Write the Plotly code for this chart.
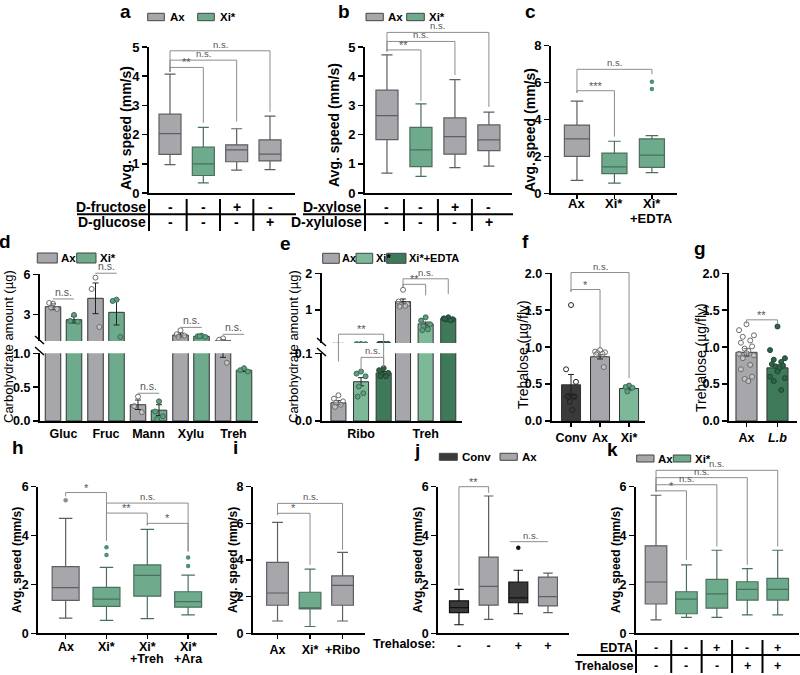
import plotly.graph_objects as go

W, H = 800, 675
FONT = "Liberation Sans, Arial, Helvetica, sans-serif"

# ---------------- colours ----------------
C_AX = "#a6a6ab"
C_XI = "#6dab8c"
C_XI_LIGHT = "#7db999"
C_EDTA = "#3e7a5a"
C_CONV = "#3a3a3a"
LINE_AX = "#5e5e63"
LINE_XI = "#4b6f5d"
BRK = "#8c8c8c"

# ================= DATA =================
# panel a  (Ax, Xi*, Xi*+D-fructose, Xi*+D-glucose)
a_low = [0.97, 0.35, 0.78, 0.80]
a_q1 = [1.32, 0.60, 1.07, 1.10]
a_med = [2.03, 1.00, 1.48, 1.33]
a_q3 = [2.70, 1.57, 1.65, 1.82]
a_high = [4.07, 2.25, 2.20, 2.63]
a_group = ["Ax", "Xi*", "Ax", "Ax"]
a_fructose = ["-", "-", "+", "-"]
a_glucose = ["-", "-", "-", "+"]

# panel b
b_low = [0.68, 0.57, 0.87, 0.92]
b_q1 = [1.83, 0.90, 1.33, 1.45]
b_med = [2.65, 1.48, 1.93, 1.82]
b_q3 = [3.52, 2.25, 2.57, 2.33]
b_high = [4.73, 3.05, 3.88, 2.77]
b_group = ["Ax", "Xi*", "Ax", "Ax"]
b_xylose = ["-", "-", "+", "-"]
b_xylulose = ["-", "-", "-", "+"]

# panel c
c_labels = [["Ax"], ["Xi*"], ["Xi*", "+EDTA"]]
c_low = [0.70, 0.55, 1.12]
c_q1 = [2.00, 1.07, 1.40]
c_med = [2.95, 1.43, 2.07]
c_q3 = [3.70, 2.18, 2.95]
c_high = [5.00, 2.82, 3.13]
c_group = ["Ax", "Xi*", "Xi*"]
c_out = [[], [], [5.65, 6.05]]

# panel d (carbohydrates, Ax vs Xi*)
d_cats = ["Gluc", "Fruc", "Mann", "Xylu", "Treh"]
d_ax_mean = [3.57, 4.20, 0.24, 1.45, 1.02]
d_ax_sem = [0.22, 1.15, 0.07, 0.15, 0.08]
d_xi_mean = [2.60, 3.15, 0.16, 1.35, 0.75]
d_xi_sem = [0.25, 0.95, 0.08, 0.04, 0.02]
d_ax_pts = [[3.80, 3.85, 3.40, 3.50], [5.75, 4.90, 2.05], [0.36, 0.22, 0.13],
            [1.80, 1.50, 1.40, 1.30], [1.20, 1.10, 0.86]]
d_xi_pts = [[2.95, 2.50, 2.45], [4.10, 4.00, 1.30], [0.29, 0.14, 0.07, 0.03],
            [1.40, 1.35, 1.30, 1.35], [0.78, 0.75, 0.73]]

# panel e
e_cats = ["Ribo", "Treh"]
e_ax_mean = [0.027, 1.23]
e_ax_sem = [0.003, 0.07]
e_xi_mean = [0.058, 0.62]
e_xi_sem = [0.006, 0.05]
e_ed_mean = [0.071, 0.77]
e_ed_sem = [0.002, 0.015]
e_ax_pts = [[0.038, 0.033, 0.029, 0.027, 0.024, 0.021], [1.55, 1.23, 1.16, 1.14, 1.11, 1.09]]
e_xi_pts = [[0.073, 0.070, 0.066, 0.051, 0.041, 0.036], [0.80, 0.71, 0.61, 0.56, 0.47, 0.45]]
e_ed_pts = [[0.078, 0.075, 0.071, 0.069, 0.066, 0.066], [0.80, 0.77, 0.75, 0.74, 0.72, 0.76]]

# panel f
f_cats = ["Conv", "Ax", "Xi*"]
f_mean = [0.49, 0.87, 0.44]
f_sem = [0.14, 0.03, 0.02]
f_pts = [[1.57, 0.70, 0.53, 0.34, 0.33, 0.33, 0.33, 0.26, 0.15],
         [0.96, 0.94, 0.93, 0.92, 0.91, 0.90, 0.73],
         [0.48, 0.46, 0.45, 0.40]]

# panel g
g_cats = ["Ax", "<i>L.b</i>"]
g_mean = [0.93, 0.72]
g_sem = [0.05, 0.04]
g_pts = [[1.31, 1.23, 1.16, 1.14, 1.09, 1.06, 1.01, 0.98, 0.95, 0.92, 0.91, 0.89, 0.85, 0.76, 0.70, 0.60, 0.57, 0.54],
         [1.28, 0.96, 0.85, 0.83, 0.80, 0.77, 0.75, 0.74, 0.72, 0.67, 0.60, 0.58, 0.54, 0.42]]

# panel h
h_labels = [["Ax"], ["Xi*"], ["Xi*", "+Treh"], ["Xi*", "+Ara"]]
h_low = [0.62, 0.53, 0.60, 0.75]
h_q1 = [1.35, 1.10, 1.52, 1.07]
h_med = [1.87, 1.40, 2.37, 1.30]
h_q3 = [2.73, 1.88, 2.80, 1.70]
h_high = [4.70, 2.70, 4.25, 2.38]
h_group = ["Ax", "Xi*", "Xi*", "Xi*"]
h_out = [[5.45], [3.20, 3.52], [], [2.75, 3.10]]

# panel i
i_labels = ["Ax", "Xi*", "+Ribo"]
i_low = [0.67, 0.37, 0.67]
i_q1 = [1.53, 1.33, 1.53]
i_med = [2.20, 1.38, 2.62]
i_q3 = [3.87, 2.24, 3.13]
i_high = [6.05, 3.50, 4.42]
i_group = ["Ax", "Xi*", "Ax"]

# panel j
j_low = [0.35, 0.57, 0.80, 0.85]
j_q1 = [0.85, 1.15, 1.25, 1.12]
j_med = [1.05, 1.92, 1.45, 1.50]
j_q3 = [1.33, 3.12, 2.10, 2.30]
j_high = [1.80, 5.62, 2.58, 2.46]
j_group = ["Conv", "Ax", "Conv", "Ax"]
j_out = [[], [], [3.50], []]
j_treh = ["-", "-", "+", "+"]

# panel k
k_low = [0.55, 0.65, 0.65, 0.75, 0.75]
k_q1 = [1.20, 0.80, 1.03, 1.36, 1.36]
k_med = [2.10, 1.40, 1.61, 1.80, 1.80]
k_q3 = [3.58, 1.70, 2.21, 2.11, 2.25]
k_high = [5.65, 2.80, 3.40, 2.65, 3.40]
k_group = ["Ax", "Xi*", "Xi*", "Xi*", "Xi*"]
k_edta = ["-", "-", "+", "-", "+"]
k_treh = ["-", "-", "-", "+", "+"]

# ================= GEOMETRY (pixel layout) =================
P = {
    "a": dict(n=1, xpx=(149, 295), xr=(-0.63, 3.75), ypx=(193, 47), yr=(0, 5)),
    "b": dict(n=2, xpx=(365, 512), xr=(-0.647, 3.68), ypx=(193, 47), yr=(0, 5)),
    "c": dict(n=3, xpx=(551, 677), xr=(-0.693, 2.67), ypx=(193.3, 45.7), yr=(0, 8)),
    "dL": dict(n=4, xpx=(40, 258), xr=(-0.553, 4.576), ypx=(421, 353.3), yr=(0, 1)),
    "dU": dict(n=5, xpx=(40, 258), xr=(-0.553, 4.576), ypx=(341, 274.3), yr=(1, 6)),
    "eL": dict(n=6, xpx=(321.7, 461.7), xr=(-0.609, 1.558), ypx=(421, 353.3), yr=(0, 0.1)),
    "eU": dict(n=7, xpx=(321.7, 461.7), xr=(-0.609, 1.558), ypx=(343, 273.3), yr=(0.1, 2)),
    "f": dict(n=8, xpx=(551.7, 645), xr=(-0.666, 2.55), ypx=(421, 273.3), yr=(0, 2)),
    "g": dict(n=9, xpx=(729.3, 796.7), xr=(-0.555, 1.62), ypx=(421, 273.3), yr=(0, 2)),
    "h": dict(n=10, xpx=(38.3, 216.7), xr=(-0.67, 3.7), ypx=(633.3, 486.7), yr=(0, 6)),
    "i": dict(n=11, xpx=(253, 365), xr=(-0.754, 2.69), ypx=(633.3, 486.7), yr=(0, 8)),
    "j": dict(n=12, xpx=(438.3, 569), xr=(-0.697, 3.71), ypx=(633.3, 486.7), yr=(0, 6)),
    "k": dict(n=13, xpx=(636, 799), xr=(-0.658, 4.7), ypx=(633.3, 486.7), yr=(0, 6)),
}

fig = go.Figure()
shapes, annos = [], []


def suf(key):
    n = P[key]["n"]
    return "" if n == 1 else str(n)


def to_paper(key, x, y):
    p = P[key]
    px = p["xpx"][0] + (x - p["xr"][0]) / (p["xr"][1] - p["xr"][0]) * (p["xpx"][1] - p["xpx"][0])
    py = p["ypx"][0] + (y - p["yr"][0]) / (p["yr"][1] - p["yr"][0]) * (p["ypx"][1] - p["ypx"][0])
    return px / W, 1 - py / H


def pp(x, y):
    return x / W, 1 - y / H


def setup(key, yvals, ytext, xvals=None, xtext=None, xticks=True, xshow=True, tfs=12.5):
    p = P[key]
    s = suf(key)
    tf = dict(family=FONT, size=tfs, color="black", weight="bold")
    fig.update_layout(**{
        "xaxis" + s: dict(domain=[p["xpx"][0] / W, p["xpx"][1] / W], range=list(p["xr"]), anchor="y" + s,
                          visible=xshow, showline=True, linecolor="black", linewidth=2,
                          ticks="outside" if xticks else "", ticklen=4, tickwidth=1.5, tickcolor="black",
                          tickmode="array", tickvals=xvals if xvals is not None else [],
                          ticktext=xtext if xtext is not None else [],
                          showgrid=False, zeroline=False, tickfont=tf, fixedrange=True, automargin=False),
        "yaxis" + s: dict(domain=[1 - p["ypx"][0] / H, 1 - p["ypx"][1] / H], range=list(p["yr"]), anchor="x" + s,
                          showline=True, linecolor="black", linewidth=2, ticks="outside", ticklen=5,
                          tickwidth=1.5, tickcolor="black", tickmode="array", tickvals=yvals, ticktext=ytext,
                          showgrid=False, zeroline=False, tickfont=tf, fixedrange=True, automargin=False),
    })


GROUP_STYLE = {"Ax": (C_AX, LINE_AX), "Xi*": (C_XI, LINE_XI), "Conv": (C_CONV, "#111111")}
OUT_COLOR = {"Ax": "#8d8d92", "Xi*": "#4f9274", "Conv": "#111111"}


def add_boxes(key, low, q1, med, q3, high, groups, width, outliers=None):
    s = suf(key)
    for i in range(len(low)):
        fill, line = GROUP_STYLE[groups[i]]
        fig.add_trace(go.Box(x=[i], lowerfence=[low[i]], q1=[q1[i]], median=[med[i]], q3=[q3[i]],
                             upperfence=[high[i]], width=width, whiskerwidth=0.5, fillcolor=fill,
                             line=dict(color=line, width=1.2), boxpoints=False,
                             xaxis="x" + s, yaxis="y" + s, showlegend=False, hoverinfo="skip"))
        if outliers and outliers[i]:
            fig.add_trace(go.Scatter(x=[i] * len(outliers[i]), y=outliers[i], mode="markers",
                                     marker=dict(size=4.5, color=OUT_COLOR[groups[i]]),
                                     xaxis="x" + s, yaxis="y" + s, showlegend=False, hoverinfo="skip"))


def add_bars(key, xs, vals, sems, width, colors):
    s = suf(key)
    fig.add_trace(go.Bar(x=xs, y=vals, width=width,
                         marker=dict(color=colors, line=dict(color="#333333", width=1)),
                         error_y=dict(type="data", array=sems, color="#222222", thickness=1, width=3),
                         xaxis="x" + s, yaxis="y" + s, showlegend=False, hoverinfo="skip"))


PAT = [0.0, -1.0, 1.0, -0.5, 0.5, -0.75, 0.75, -0.25, 0.25]


def add_points(key, xc, pts, half, marker):
    s = suf(key)
    xs = [xc + PAT[k % len(PAT)] * half for k in range(len(pts))]
    fig.add_trace(go.Scatter(x=xs, y=pts, mode="markers", marker=marker, xaxis="x" + s, yaxis="y" + s,
                             showlegend=False, hoverinfo="skip"))


M_AX = dict(size=5, color="rgba(255,255,255,0.35)", line=dict(color="#6b6b6b", width=1))
M_XI = dict(size=5, color="#5f9e7f", line=dict(color="#3b6b53", width=1))
M_EDTA = dict(size=5, color="#2f6347", line=dict(color="#1f4733", width=1))
M_CONV = dict(size=5, color="rgba(255,255,255,0)", line=dict(color="#222222", width=1))
M_LB = dict(size=5, color="#2f6347", line=dict(color="#1f4733", width=1))


def path(points):
    coords = [to_paper(*q) for q in points]
    d = "M " + " L ".join(f"{u:.5f},{v:.5f}" for u, v in coords)
    shapes.append(dict(type="path", path=d, xref="paper", yref="paper", line=dict(color=BRK, width=1)))


def label(key, x, y, text, size=None):
    u, v = to_paper(key, x, y)
    if size is None:
        size = 9.5 if text.startswith("n") else 11
    annos.append(dict(text=text, x=u, y=v, xref="paper", yref="paper", xanchor="center", yanchor="bottom",
                      yshift=-3 if text.startswith("*") else -1, showarrow=False,
                      font=dict(family=FONT, size=size, color="#555555")))


def bracket(key, x1, x2, y, b1, b2, text):
    path([(key, x1, b1), (key, x1, y), (key, x2, y), (key, x2, b2)])
    label(key, (x1 + x2) / 2, y, text)


def ptext(x, y, text, size=13, bold=True, anchor="center", color="black", angle=0, yanchor="middle"):
    u, v = pp(x, y)
    annos.append(dict(text=text, x=u, y=v, xref="paper", yref="paper", xanchor=anchor, yanchor=yanchor,
                      align=anchor if anchor in ("left", "right") else "center",
                      showarrow=False, textangle=angle, borderpad=0,
                      font=dict(family=FONT, size=size, color=color, weight="bold" if bold else "normal")))


def xlabels(key, lines_per_cat, ys, size):
    s = suf(key)
    for i, lines in enumerate(lines_per_cat):
        for li, t in enumerate(lines):
            annos.append(dict(text=t, x=i, y=1 - ys[li] / H, xref="x" + s, yref="paper", xanchor="center",
                              yanchor="middle", showarrow=False,
                              font=dict(family=FONT, size=size, color="black", weight="bold")))


def pline(x0, y0, x1, y1, w=2, color="black"):
    u0, v0 = pp(x0, y0)
    u1, v1 = pp(x1, y1)
    shapes.append(dict(type="line", x0=u0, y0=v0, x1=u1, y1=v1, xref="paper", yref="paper",
                       line=dict(color=color, width=w)))


def legend_item(x0, y0, x1, y1, color, text, tx, size=11.5):
    u0, v0 = pp(x0, y1)
    u1, v1 = pp(x1, y0)
    shapes.append(dict(type="rect", x0=u0, y0=v0, x1=u1, y1=v1, xref="paper", yref="paper",
                       fillcolor=color, line=dict(color="#444444", width=1)))
    ptext(tx, (y0 + y1) / 2, text, size=size, anchor="left")


# ================= PANEL a =================
setup("a", [0, 1, 2, 3, 4, 5], ["0", "1", "2", "3", "4", "5"], xticks=False, tfs=13)
add_boxes("a", a_low, a_q1, a_med, a_q3, a_high, a_group, 0.66)
bracket("a", 0, 3, 4.87, 4.15, 2.78, "n.s.")
bracket("a", 0, 2, 4.55, 4.15, 2.45, "n.s.")
bracket("a", 0, 1, 4.30, 4.15, 2.40, "**")

# ================= PANEL b =================
setup("b", [0, 1, 2, 3, 4, 5], ["0", "1", "2", "3", "4", "5"], xticks=False, tfs=13)
add_boxes("b", b_low, b_q1, b_med, b_q3, b_high, b_group, 0.65)
bracket("b", 0, 3, 5.50, 4.85, 2.95, "n.s.")
bracket("b", 0, 2, 5.19, 4.85, 4.04, "n.s.")
bracket("b", 0, 1, 4.90, 4.85, 3.15, "**")

# ================= PANEL c =================
setup("c", [0, 2, 4, 6, 8], ["0", "2", "4", "6", "8"], xvals=[0, 1, 2], xtext=["", "", ""], tfs=13)
add_boxes("c", c_low, c_q1, c_med, c_q3, c_high, c_group, 0.67, c_out)
xlabels("c", c_labels, [203.5, 218.5], 13)
bracket("c", 0, 2, 6.72, 5.45, 6.45, "n.s.")
bracket("c", 0, 1, 5.56, 5.45, 3.07, "***")

# ================= PANEL d (broken axis) =================
setup("dL", [0, 0.5, 1.0], ["0.0", "0.5", "1.0"], xvals=list(range(len(d_cats))), xtext=d_cats, xticks=False)
setup("dU", [3, 6], ["3", "6"], xshow=False)
d_off, d_w = 0.247, 0.365
for key in ("dL", "dU"):
    add_bars(key, [i - d_off for i in range(len(d_cats))], d_ax_mean, d_ax_sem, d_w, C_AX)
    add_bars(key, [i + d_off for i in range(len(d_cats))], d_xi_mean, d_xi_sem, d_w, C_XI)
    for i in range(len(d_cats)):
        add_points(key, i - d_off, d_ax_pts[i], 0.09, M_AX)
        add_points(key, i + d_off, d_xi_pts[i], 0.09, M_XI)
d_ns = [("dU", 0, 4.15), ("dU", 1, 6.08), ("dL", 2, 0.41), ("dU", 3, 2.02), ("dU", 4, 1.50)]
for key, i, y in d_ns:
    path([(key, i - 0.25, y), (key, i + 0.25, y)])
    label(key, i, y, "n.s.", size=10.5)

# ================= PANEL e (broken axis) =================
setup("eL", [0, 0.1], ["0.0", "0.1"], xvals=[0, 1], xtext=e_cats, xticks=False)
setup("eU", [1, 2], ["1", "2"], xshow=False)
e_off, e_w = 0.35, 0.233
for key in ("eL", "eU"):
    add_bars(key, [i - e_off for i in range(2)], e_ax_mean, e_ax_sem, e_w, C_AX)
    add_bars(key, [i for i in range(2)], e_xi_mean, e_xi_sem, e_w, C_XI_LIGHT)
    add_bars(key, [i + e_off for i in range(2)], e_ed_mean, e_ed_sem, e_w, C_EDTA)
    for i in range(2):
        add_points(key, i - e_off, e_ax_pts[i], 0.07, M_AX)
        add_points(key, i, e_xi_pts[i], 0.07, M_XI)
        add_points(key, i + e_off, e_ed_pts[i], 0.07, M_EDTA)
bracket("eU", 1 - e_off, 1 + e_off, 1.85, 1.63, 1.43, "n.s.")
bracket("eU", 1 - e_off, 1.0, 1.70, 1.63, 1.40, "**")
path([("eL", -e_off, 0.088), ("eU", -e_off, 0.34), ("eU", e_off, 0.34), ("eL", e_off, 0.08)])
label("eU", 0, 0.34, "**")
bracket("eL", 0, e_off, 0.094, 0.073, 0.08, "n.s.")

# ================= PANEL f =================
setup("f", [0, 0.5, 1.0, 1.5, 2.0], ["0.0", "0.5", "1.0", "1.5", "2.0"], xvals=[0, 1, 2], xtext=f_cats)
add_bars("f", [0, 1, 2], f_mean, f_sem, 0.655, [C_CONV, C_AX, C_XI_LIGHT])
add_points("f", 0, f_pts[0], 0.17, M_CONV)
add_points("f", 1, f_pts[1], 0.17, M_AX)
add_points("f", 2, f_pts[2], 0.12, M_XI)
bracket("f", 0, 2, 2.01, 1.75, 0.58, "n.s.")
bracket("f", 0, 1, 1.78, 1.75, 0.98, "*")

# ================= PANEL g =================
setup("g", [0, 0.5, 1.0, 1.5, 2.0], ["0.0", "0.5", "1.0", "1.5", "2.0"], xvals=[0, 1], xtext=g_cats)
add_bars("g", [0, 1], g_mean, g_sem, 0.68, [C_AX, C_EDTA])
add_points("g", 0, g_pts[0], 0.24, M_AX)
add_points("g", 1, g_pts[1], 0.24, M_LB)
bracket("g", 0, 1, 1.37, 1.32, 1.32, "**")

# ================= PANEL h =================
setup("h", [0, 2, 4, 6], ["0", "2", "4", "6"], xvals=[0, 1, 2, 3], xtext=["", "", "", ""])
add_boxes("h", h_low, h_q1, h_med, h_q3, h_high, h_group, 0.66, h_out)
xlabels("h", h_labels, [646.5, 659], 12.5)
bracket("h", 0, 1, 5.76, 5.60, 3.80, "*")
bracket("h", 1, 3, 5.33, 3.80, 3.35, "n.s.")
bracket("h", 1, 2, 4.92, 3.80, 4.42, "**")
bracket("h", 2, 3, 4.50, 4.42, 3.35, "*")

# ================= PANEL i =================
setup("i", [0, 2, 4, 6, 8], ["0", "2", "4", "6", "8"], xvals=[0, 1, 2], xtext=i_labels)
add_boxes("i", i_low, i_q1, i_med, i_q3, i_high, i_group, 0.667)
bracket("i", 0, 2, 7.09, 6.45, 4.55, "n.s.")
bracket("i", 0, 1, 6.55, 6.45, 3.73, "*")

# ================= PANEL j =================
setup("j", [0, 2, 4, 6], ["0", "2", "4", "6"], xvals=[0, 1, 2, 3], xtext=j_treh, xticks=False)
add_boxes("j", j_low, j_q1, j_med, j_q3, j_high, j_group, 0.64, j_out)
bracket("j", 0, 1, 6.0, 1.95, 5.75, "**")
path([("j", 1.72, 3.75), ("j", 3.0, 3.75)])
label("j", 2.4, 3.75, "n.s.")

# ================= PANEL k =================
setup("k", [0, 2, 4, 6], ["0", "2", "4", "6"], xticks=False)
add_boxes("k", k_low, k_q1, k_med, k_q3, k_high, k_group, 0.71)
bracket("k", 0, 4, 6.67, 5.80, 3.55, "n.s.")
bracket("k", 0, 3, 6.37, 5.80, 2.80, "n.s.")
bracket("k", 0, 2, 6.08, 5.80, 3.55, "n.s.")
bracket("k", 0, 1, 5.83, 5.80, 3.00, "*")


# ================= tables under a, b, k and j =================
def table(key, rows, row_y, labels, label_right, line_left, sep_y, vtop, vbot, size):
    s = suf(key)
    for r, vals in enumerate(rows):
        ptext(label_right, row_y[r], labels[r], size=size, anchor="right")
        for i, v in enumerate(vals):
            annos.append(dict(text=v, x=i, y=1 - row_y[r] / H, xref="x" + s, yref="paper", xanchor="center",
                              yanchor="middle", showarrow=False,
                              font=dict(family=FONT, size=size, color="black", weight="bold")))
    p = P[key]
    pline(line_left, sep_y, p["xpx"][1] + 1, sep_y)
    ncol = len(rows[0])
    for xv in [p["xr"][0]] + [i + 0.5 for i in range(ncol - 1)]:
        u, _ = to_paper(key, xv, 0)
        pline(u * W, vtop, u * W, vbot)


table("a", [a_fructose, a_glucose], [206.7, 222.3], ["D-fructose", "D-glucose"], 147, 77, 214.3, 199, 231, 14)
table("b", [b_xylose, b_xylulose], [206.7, 222.3], ["D-xylose", "D-xylulose"], 363, 303, 214.3, 199, 231, 14)
table("k", [k_edta, k_treh], [647.7, 665.7], ["EDTA", "Trehalose"], 634, 577, 655, 640, 673, 12.5)
ptext(437, 643.5, "Trehalose:", size=12.5, anchor="right")

# ================= legends =================
legend_item(147.7, 13.3, 164.3, 20.7, C_AX, "Ax", 169)
legend_item(197.7, 13.3, 214.3, 20.7, C_XI, "Xi*", 219)
legend_item(366, 13.3, 383.3, 20.7, C_AX, "Ax", 387)
legend_item(406.7, 13.3, 424.3, 20.7, C_XI, "Xi*", 428)
legend_item(37.3, 253, 57.3, 263, C_AX, "Ax", 60)
legend_item(76.7, 253, 96, 263, C_XI, "Xi*", 99)
legend_item(322.7, 253.3, 339.3, 263.3, C_AX, "Ax", 340.5, size=11)
legend_item(356, 253.3, 372.7, 263.3, C_XI_LIGHT, "Xi*", 374.5, size=11)
legend_item(386.7, 253.3, 406, 263.3, C_EDTA, "Xi*+EDTA", 408, size=11)
legend_item(439.3, 453.3, 457.3, 460.3, C_CONV, "Conv", 460.5)
legend_item(500, 453.3, 517.3, 460.3, C_AX, "Ax", 521)
legend_item(636.7, 455, 654, 462, C_AX, "Ax", 657)
legend_item(673.3, 455, 690.7, 462, C_XI, "Xi*", 694)

# ================= axis titles =================
ptext(126, 128, "Avg. speed (mm/s)", size=14, angle=-90)
ptext(334, 125, "Avg. speed (mm/s)", size=14, angle=-90)
ptext(530, 130, "Avg. speed (mm/s)", size=14, angle=-90)
ptext(8, 347, "Carbohydrate amount (µg)", size=13, bold=False, angle=-90)
ptext(293, 347, "Carbohydrate amount (µg)", size=13, bold=False, angle=-90)
ptext(523, 355, "Trehalose (µg/fly)", size=14, bold=False, angle=-90)
ptext(701, 358, "Trehalose (µg/fly)", size=14, bold=False, angle=-90)
ptext(17, 560, "Avg. speed (mm/s)", size=12, angle=-90)
ptext(233, 560, "Avg. speed (mm/s)", size=12, angle=-90)
ptext(418, 560, "Avg. speed (mm/s)", size=12, angle=-90)
ptext(616, 560, "Avg. speed (mm/s)", size=12, angle=-90)

# ================= panel letters =================
for t, x, y in [("a", 125, 0), ("b", 344, 0), ("c", 530, 0)]:
    ptext(x, y, t, size=19, yanchor="top")
for t, x, y in [("d", 5, 241), ("e", 285, 243), ("f", 525, 241), ("g", 700, 249), ("h", 18, 447),
                ("i", 235, 447), ("j", 417, 450), ("k", 612, 449)]:
    ptext(x, y, t, size=19)

# ================= axis break marks =================
pline(35, 336, 44, 344, w=1.5)
pline(35, 347, 44, 355, w=1.5)
pline(317, 338, 326, 346, w=1.5)
pline(317, 348, 326, 356, w=1.5)

fig.update_layout(width=W, height=H, margin=dict(l=0, r=0, t=0, b=0), barmode="overlay",
                  showlegend=False, paper_bgcolor="white", plot_bgcolor="white", hovermode=False,
                  shapes=shapes, annotations=annos, font=dict(family=FONT, color="black"))
fig.write_html("out.html", config={"displayModeBar": False, "staticPlot": True},
               post_script="document.body.style.margin='0';document.body.style.overflow='hidden';")
